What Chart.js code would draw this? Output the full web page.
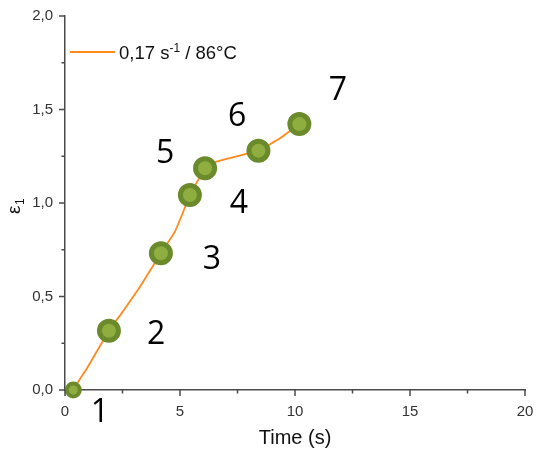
<!DOCTYPE html>
<html>
<head>
<meta charset="utf-8">
<script src="https://cdn.jsdelivr.net/npm/chart.js@4/dist/chart.umd.min.js"></script>
<style>
html,body{margin:0;padding:0;background:#fff;}
#c{display:block;}
</style>
</head>
<body>
<canvas id="c" width="542" height="455"></canvas>
<script>
// Marker points (time in s, strain)
const pointTimes  = [0.36, 1.91, 4.17, 5.43, 6.09, 8.41, 10.19];
const pointStrain = [0.00, 0.317, 0.731, 1.043, 1.186, 1.280, 1.422];
// Orange curve
const curveTimes  = [0.36, 0.60, 0.95, 1.91, 2.51, 3.26, 4.17, 4.78, 5.14, 5.43, 6.09, 6.59, 8.41, 9.35, 10.19];
const curveStrain = [0.00, 0.05, 0.115, 0.317, 0.419, 0.552, 0.731, 0.847, 0.953, 1.043, 1.186, 1.221, 1.280, 1.346, 1.422];
// Point numbers and where they are written (data units)
const pointNames  = ['1','2','3','4','5','6','7'];
const nameTimes   = [1.52, 3.96, 6.39, 7.56, 4.35, 7.48, 11.87];
const nameStrain  = [-0.118, 0.30, 0.70, 1.00, 1.27, 1.465, 1.604];
// Axis ticks
const xMajorTicks = [0, 5, 10, 15, 20];
const xMinorTicks = [2.5, 7.5, 12.5, 17.5];
const yMajorTicks = [0, 0.5, 1.0, 1.5, 2.0];
const yMinorTicks = [0.25, 0.75, 1.25, 1.75];
const legendLabel = ['0,17 s', '-1', ' / 86°C'];
const xTitle = 'Time (s)';

const AXIS = '#4a4a4a';
const ORANGE = '#ff8a1e';
const FONT = '"Liberation Sans", Arial, sans-serif';

const decor = {
  id: 'decor',
  afterDraw(chart) {
    const ctx = chart.ctx;
    const xs = chart.scales.x, ys = chart.scales.y;
    const a = chart.chartArea;
    ctx.save();
    ctx.strokeStyle = AXIS;
    ctx.lineWidth = 1.5;
    const tick = (x1, y1, x2, y2) => { ctx.beginPath(); ctx.moveTo(x1, y1); ctx.lineTo(x2, y2); ctx.stroke(); };
    xMajorTicks.forEach(v => { const p = xs.getPixelForValue(v); tick(p, a.bottom, p, a.bottom + 6); });
    xMinorTicks.forEach(v => { const p = xs.getPixelForValue(v); tick(p, a.bottom, p, a.bottom + 3.5); });
    yMajorTicks.forEach(v => { const p = ys.getPixelForValue(v); tick(a.left, p, a.left - 6, p); });
    yMinorTicks.forEach(v => { const p = ys.getPixelForValue(v); tick(a.left, p, a.left - 3.5, p); });

    ctx.fillStyle = '#111';
    ctx.font = '20px ' + FONT;
    ctx.textAlign = 'center';
    ctx.textBaseline = 'middle';
    ctx.fillText(xTitle, (a.left + a.right) / 2, 438);

    ctx.save();
    ctx.translate(20, 214);
    ctx.rotate(-Math.PI / 2);
    ctx.textAlign = 'left';
    ctx.textBaseline = 'alphabetic';
    ctx.font = '19px ' + FONT;
    ctx.fillText('ε', 0, 0);
    const ew = ctx.measureText('ε').width;
    ctx.font = '12px ' + FONT;
    ctx.fillText('1', ew + 0.5, 4);
    ctx.restore();

    ctx.strokeStyle = ORANGE;
    ctx.lineWidth = 2;
    tick(70, 52, 115, 52);
    ctx.fillStyle = '#111';
    ctx.textAlign = 'left';
    ctx.textBaseline = 'alphabetic';
    let lx = 119;
    const base = 59;
    ctx.font = '18.5px ' + FONT;
    ctx.fillText(legendLabel[0], lx, base);
    lx += ctx.measureText(legendLabel[0]).width;
    ctx.font = '12px ' + FONT;
    ctx.fillText(legendLabel[1], lx, base - 7);
    lx += ctx.measureText(legendLabel[1]).width;
    ctx.font = '18.5px ' + FONT;
    ctx.fillText(legendLabel[2], lx, base);

    ctx.fillStyle = '#000';
    ctx.font = '32px "Open Sans", "Noto Sans", sans-serif';
    ctx.textAlign = 'center';
    ctx.textBaseline = 'middle';
    pointNames.forEach((n, i) => {
      ctx.fillText(n, xs.getPixelForValue(nameTimes[i]), ys.getPixelForValue(nameStrain[i]) + 1);
    });
    ctx.restore();
  }
};

const noPad = s => { s.paddingLeft = 0; s.paddingRight = 0; s.paddingTop = 0; s.paddingBottom = 0; };

new Chart(document.getElementById('c'), {
  type: 'scatter',
  data: {
    datasets: [
      {
        label: 'points',
        data: pointTimes.map((t, i) => ({ x: t, y: pointStrain[i] })),
        showLine: false,
        clip: false,
        backgroundColor: '#8fae40',
        borderColor: '#6a8a2c',
        pointRadius: c => c.dataIndex === 0 ? 6.5 : 9.5,
        pointBorderWidth: c => c.dataIndex === 0 ? 4 : 5,
        pointHoverRadius: c => c.dataIndex === 0 ? 6.5 : 9.5,
        order: 0
      },
      {
        label: 'curve',
        data: curveTimes.map((t, i) => ({ x: t, y: curveStrain[i] })),
        showLine: true,
        clip: false,
        borderColor: ORANGE,
        borderWidth: 1.8,
        pointRadius: 0,
        tension: 0.1,
        order: 1
      }
    ]
  },
  options: {
    responsive: false,
    animation: false,
    layout: { padding: { top: 16, right: 17, left: 0, bottom: 0 } },
    plugins: { legend: { display: false }, tooltip: { enabled: false } },
    scales: {
      x: {
        type: 'linear', min: 0, max: 20,
        afterFit: s => { s.height = 65; noPad(s); },
        afterBuildTicks: s => { s.ticks = xMajorTicks.map(v => ({ value: v })); },
        grid: { display: false, drawTicks: false },
        border: { display: true, color: AXIS, width: 1.5 },
        ticks: { padding: 13, color: '#333', font: { family: FONT, size: 15 }, maxRotation: 0,
                 callback: v => String(v) }
      },
      y: {
        type: 'linear', min: 0, max: 2,
        afterFit: s => { s.width = 65; noPad(s); },
        afterBuildTicks: s => { s.ticks = yMajorTicks.map(v => ({ value: v })); },
        grid: { display: false, drawTicks: false },
        border: { display: true, color: AXIS, width: 1.5 },
        ticks: { padding: 12, color: '#333', font: { family: FONT, size: 15 },
                 callback: v => v.toFixed(1).replace('.', ',') }
      }
    }
  },
  plugins: [decor]
});
</script>
</body>
</html>
